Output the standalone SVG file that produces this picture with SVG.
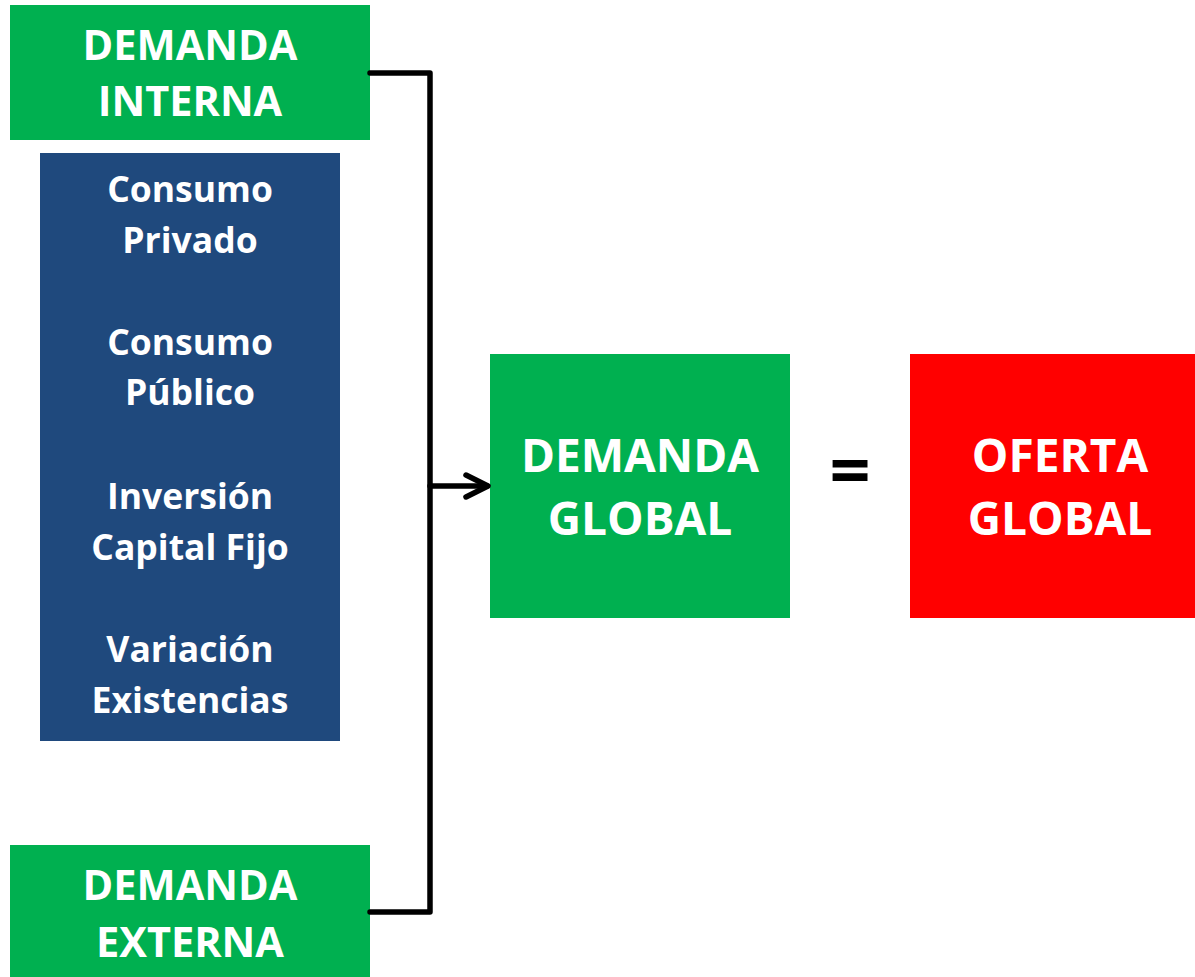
<svg xmlns="http://www.w3.org/2000/svg" width="1195" height="977" viewBox="0 0 1195 977">
<defs>
<style>
.g{fill:#00B050}
.t{font-family:"Open Sans","Liberation Sans",sans-serif;font-weight:bold;fill:#fff;text-anchor:middle}
.big{font-size:41.5px}
.mid{font-size:35.5px}
.gl{font-size:46px}
.ln{fill:none;stroke:#000;stroke-width:5.5;stroke-linejoin:round;stroke-linecap:round}
</style>
</defs>
<rect width="1195" height="977" fill="#fff"/>
<g id="demanda-interna">
<rect class="g" x="10" y="5" width="360" height="135"/>
<text class="t big" x="190" y="60">DEMANDA</text>
<text class="t big" x="190" y="116">INTERNA</text>
</g>
<g id="componentes">
<rect x="40" y="153" width="300" height="588" fill="#1F497D"/>
<text class="t mid" x="190" y="202">Consumo</text>
<text class="t mid" x="190" y="253">Privado</text>
<text class="t mid" x="190" y="355">Consumo</text>
<text class="t mid" x="190" y="405">Público</text>
<text class="t mid" x="190" y="509">Inversión</text>
<text class="t mid" x="190" y="560">Capital Fijo</text>
<text class="t mid" x="190" y="662">Variación</text>
<text class="t mid" x="190" y="713">Existencias</text>
</g>
<g id="demanda-externa">
<rect class="g" x="10" y="845" width="360" height="132"/>
<text class="t big" x="190" y="900">DEMANDA</text>
<text class="t big" x="190" y="957">EXTERNA</text>
</g>
<g id="demanda-global">
<rect class="g" x="490" y="354" width="300" height="264"/>
<text class="t gl" x="640" y="472">DEMANDA</text>
<text class="t gl" x="640" y="535">GLOBAL</text>
</g>
<g id="igual">
<text x="850" y="496" font-family="Open Sans, sans-serif" font-weight="bold" font-size="72" text-anchor="middle" fill="#000">=</text>
</g>
<g id="oferta-global">
<rect x="910" y="354" width="285" height="264" fill="#FF0000"/>
<text class="t gl" x="1060" y="472">OFERTA</text>
<text class="t gl" x="1060" y="535">GLOBAL</text>
</g>
<g id="connectors">
<path class="ln" d="M370 73 H430 V912 H370" stroke-linecap="butt"/>
<path class="ln" d="M430 486 H487"/>
<path class="ln" d="M466 475 L488 486 L466 497"/>
</g>
</svg>
